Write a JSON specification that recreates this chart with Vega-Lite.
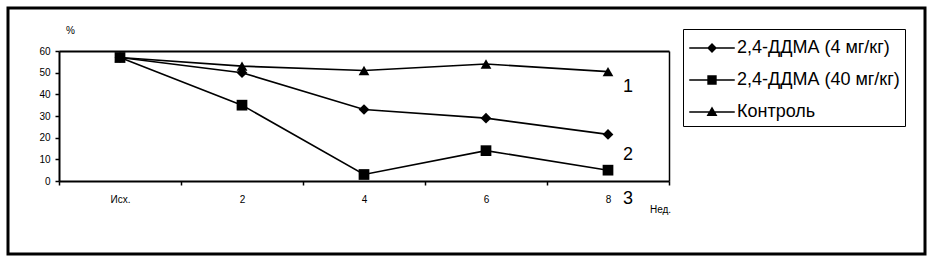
{
  "$schema": "https://vega.github.io/schema/vega-lite/v6.json",
  "width": 917,
  "height": 246,
  "autosize": "none",
  "padding": {"left": 8, "top": 8, "right": 10, "bottom": 7},
  "background": "white",
  "config": {
    "view": {"stroke": "black", "strokeWidth": 3},
    "font": "Liberation Sans",
    "axis": {
      "domainColor": "black",
      "tickColor": "black",
      "labelColor": "black",
      "titleColor": "black",
      "labelFont": "Liberation Sans",
      "titleFont": "Liberation Sans",
      "labelFontSize": 10,
      "titleFontSize": 10,
      "titleFontWeight": "normal",
      "grid": false,
      "domainWidth": 2,
      "tickWidth": 1.5
    }
  },
  "datasets": {
    "main": [
      {"series": "2,4-ДДМА (4 мг/кг)", "week": "Исх.", "value": 57},
      {"series": "2,4-ДДМА (4 мг/кг)", "week": "2", "value": 50},
      {"series": "2,4-ДДМА (4 мг/кг)", "week": "4", "value": 33},
      {"series": "2,4-ДДМА (4 мг/кг)", "week": "6", "value": 29},
      {"series": "2,4-ДДМА (4 мг/кг)", "week": "8", "value": 21.5},
      {"series": "2,4-ДДМА (40 мг/кг)", "week": "Исх.", "value": 57},
      {"series": "2,4-ДДМА (40 мг/кг)", "week": "2", "value": 35},
      {"series": "2,4-ДДМА (40 мг/кг)", "week": "4", "value": 3},
      {"series": "2,4-ДДМА (40 мг/кг)", "week": "6", "value": 14},
      {"series": "2,4-ДДМА (40 мг/кг)", "week": "8", "value": 5},
      {"series": "Контроль", "week": "Исх.", "value": 57},
      {"series": "Контроль", "week": "2", "value": 53},
      {"series": "Контроль", "week": "4", "value": 51},
      {"series": "Контроль", "week": "6", "value": 54},
      {"series": "Контроль", "week": "8", "value": 50.5}
    ],
    "labels": [
      {"label": "1", "week": "8", "pos": 43.5},
      {"label": "2", "week": "8", "pos": 12},
      {"label": "3", "week": "8", "pos": -8.4}
    ]
  },
  "layer": [
    {
      "data": {"name": "main"},
      "mark": {"type": "line", "color": "black", "strokeWidth": 1.6},
      "encoding": {
        "x": {
          "field": "week", "type": "nominal", "bandPosition": 0.5,
          "scale": {"type": "band", "domain": ["Исх.", "2", "4", "6", "8"], "range": [51, 661], "paddingInner": 0, "paddingOuter": 0},
          "axis": {
            "orient": "bottom", "offset": -73, "title": "Нед.", "labelAngle": 0,
            "tickBand": "extent", "tickSize": 4, "labelPadding": 9,
            "titleX": 652, "titleY": 28, "titleAlign": "center", "titleBaseline": "middle"
          }
        },
        "y": {
          "field": "value", "type": "quantitative",
          "scale": {"domain": [0, 60], "range": [173, 43], "nice": false},
          "axis": {
            "orient": "left", "offset": -51, "values": [0, 10, 20, 30, 40, 50, 60],
            "title": "%", "titleAngle": 0, "titleX": 11, "titleY": 22,
            "titleAlign": "center", "titleBaseline": "middle",
            "tickSize": 4, "labelPadding": 5
          }
        },
        "detail": {"field": "series", "type": "nominal"}
      }
    },
    {
      "data": {"name": "main"},
      "mark": {"type": "point", "filled": true, "color": "black", "opacity": 1, "size": 115},
      "encoding": {
        "x": {"field": "week", "type": "nominal", "bandPosition": 0.5, "axis": null},
        "y": {"field": "value", "type": "quantitative", "axis": null},
        "shape": {
          "field": "series", "type": "nominal",
          "scale": {"domain": ["2,4-ДДМА (4 мг/кг)", "2,4-ДДМА (40 мг/кг)", "Контроль"], "range": ["diamond", "square", "triangle-up"]},
          "legend": null
        }
      }
    },
    {
      "data": {"name": "labels"},
      "mark": {"type": "text", "dx": 20, "fontSize": 18, "baseline": "middle", "align": "center", "color": "black", "font": "Liberation Sans"},
      "encoding": {
        "x": {"field": "week", "type": "nominal", "bandPosition": 0.5,
          "axis": {"orient": "top", "offset": -43, "labels": false, "ticks": false, "title": null}},
        "y": {"field": "pos", "type": "quantitative",
          "axis": {"orient": "right", "offset": -256, "labels": false, "ticks": false, "title": null, "domainWidth": 1.5}},
        "text": {"field": "label", "type": "nominal"}
      }
    },
    {
      "data": {"name": "main"},
      "transform": [{"filter": "datum.value < -1000"}],
      "mark": {"type": "point", "filled": true, "color": "black", "opacity": 1},
      "encoding": {
        "shape": {
          "field": "series", "type": "nominal",
          "scale": {
            "domain": ["2,4-ДДМА (4 мг/кг)", "2,4-ДДМА (40 мг/кг)", "Контроль"],
            "range": [
              "M-1.75,-0.06H1.75V0.06H-1.75ZM0,-0.38L0.38,0L0,0.38L-0.38,0Z",
              "M-1.75,-0.06H1.75V0.06H-1.75ZM-0.36,-0.36H0.36V0.36H-0.36Z",
              "M-1.75,-0.06H1.75V0.06H-1.75ZM0,-0.42L0.42,0.3H-0.42Z"
            ]
          },
          "legend": {
            "orient": "none", "legendX": 675, "legendY": 21, "title": null,
            "strokeColor": "black", "padding": 5,
            "symbolSize": 676, "symbolOffset": 10, "labelOffset": 11, "rowPadding": 9,
            "symbolFillColor": "black",
            "labelFontSize": 18, "labelFont": "Liberation Sans", "labelColor": "black", "labelLimit": 300
          }
        }
      }
    }
  ],
  "resolve": {
    "scale": {"shape": "independent"},
    "axis": {"x": "independent", "y": "independent"}
  }
}
